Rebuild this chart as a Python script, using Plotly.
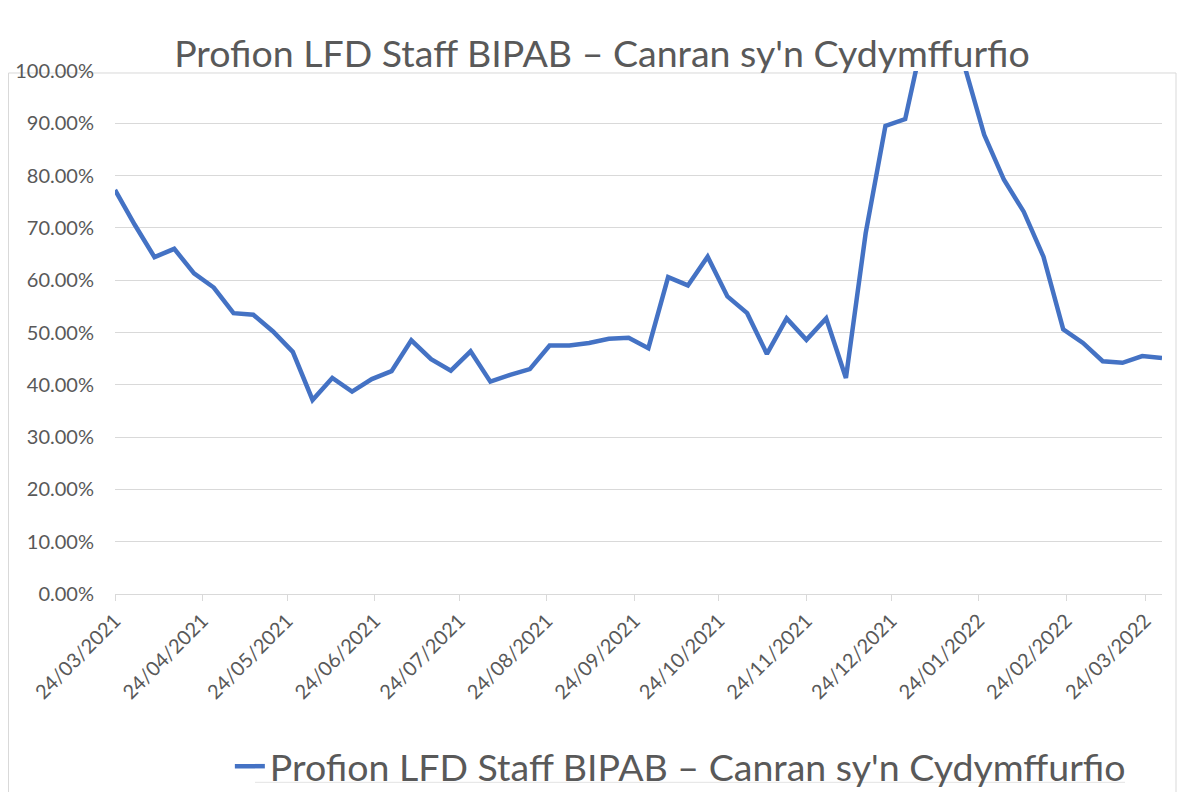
import plotly.graph_objects as go

dates = [
    "2021-03-24", "2021-03-31", "2021-04-07", "2021-04-14", "2021-04-21", "2021-04-28",
    "2021-05-05", "2021-05-12", "2021-05-19", "2021-05-26", "2021-06-02", "2021-06-09",
    "2021-06-16", "2021-06-23", "2021-06-30", "2021-07-07", "2021-07-14", "2021-07-21",
    "2021-07-28", "2021-08-04", "2021-08-11", "2021-08-18", "2021-08-25", "2021-09-01",
    "2021-09-08", "2021-09-15", "2021-09-22", "2021-09-29", "2021-10-06", "2021-10-13",
    "2021-10-20", "2021-10-27", "2021-11-03", "2021-11-10", "2021-11-17", "2021-11-24",
    "2021-12-01", "2021-12-08", "2021-12-15", "2021-12-22", "2021-12-29", "2022-01-05",
    "2022-01-12", "2022-01-19", "2022-01-26", "2022-02-02", "2022-02-09", "2022-02-16",
    "2022-02-23", "2022-03-02", "2022-03-09", "2022-03-16", "2022-03-23", "2022-03-30",
]

compliance_pct = [
    77.25, 70.6, 64.4, 66.0, 61.3, 58.6,
    53.7, 53.4, 50.2, 46.3, 37.1, 41.3,
    38.7, 41.1, 42.6, 48.5, 44.9, 42.7,
    46.4, 40.6, 41.9, 43.0, 47.5, 47.5,
    48.0, 48.8, 49.0, 47.0, 60.6, 59.0,
    64.5, 56.9, 53.7, 45.9, 52.7, 48.6,
    52.7, 41.3, 69.0, 89.5, 90.8, 108.0,
    110.0, 101.0, 87.8, 79.2, 73.1, 64.5,
    50.6, 48.0, 44.5, 44.2, 45.5, 45.1,
]

tick_dates = [
    "2021-03-24", "2021-04-24", "2021-05-24", "2021-06-24", "2021-07-24",
    "2021-08-24", "2021-09-24", "2021-10-24", "2021-11-24", "2021-12-24",
    "2022-01-24", "2022-02-24", "2022-03-24",
]

series_name = "Profion LFD Staff BIPAB \u2013 Canran sy'n Cydymffurfio"
title_text = "Profion LFD Staff BIPAB \u2013 Canran sy'n Cydymffurfio"

values = [v / 100 for v in compliance_pct]

FONT = "Lato"
GREY_TXT = "#595959"
GRID = "#d9d9d9"

# the page adds an 8px body margin, so the figure is drawn 8px smaller
W, H = 1178, 784
L, T, R, B = 107, 63, 24, 197.5
PW, PH = W - L - R, H - T - B

fig = go.Figure()
fig.add_trace(go.Scatter(
    x=dates, y=values, mode="lines", name=series_name,
    line=dict(color="#4472C4", width=4.5),
    showlegend=True,
))

fig.update_layout(
    width=W, height=H,
    margin=dict(l=L, r=R, t=T, b=B, autoexpand=False),
    paper_bgcolor="white", plot_bgcolor="white",
    font=dict(family=FONT, color=GREY_TXT),
    title=dict(
        text=title_text, x=594 / W, y=1 - 46 / H,
        xref="container", yref="container", xanchor="center", yanchor="middle",
        font=dict(family=FONT, size=37.5, color=GREY_TXT),
    ),
    showlegend=True,
    legend=dict(
        orientation="h", x=0.1097, xanchor="left", y=-(B + 6) / PH, yanchor="bottom",
        font=dict(family=FONT, size=37.5, color=GREY_TXT),
        bgcolor="rgba(0,0,0,0)", borderwidth=0,
    ),
    xaxis=dict(
        type="date", range=["2021-03-24", "2022-03-30"], automargin=False,
        tickmode="array", tickvals=tick_dates, tickformat="%d/%m/%Y",
        tickangle=-45, tickfont=dict(family=FONT, size=20, color=GREY_TXT),
        showgrid=False, showline=True, linecolor=GRID, linewidth=1.2,
        ticks="outside", ticklen=6, tickcolor=GRID, tickwidth=1.2,
        zeroline=False,
    ),
    yaxis=dict(
        range=[0, 1], dtick=0.1, tick0=0, tickformat=".2%", automargin=False,
        tickfont=dict(family=FONT, size=20, color=GREY_TXT),
        showgrid=True, gridcolor=GRID, gridwidth=1.2,
        showline=False, zeroline=False, ticks="",
        ticklabelstandoff=20,
    ),
    shapes=[
        dict(type="rect", xref="paper", yref="paper",
             x0=(0.5 - L) / PW, x1=(1168 - L) / PW,
             y0=-0.6, y1=(PH - 2) / PH,
             line=dict(color=GRID, width=1), fillcolor="rgba(0,0,0,0)", layer="below"),
        dict(type="line", xref="paper", yref="paper",
             x0=(247 - L) / PW, x1=(1117 - L) / PW,
             y0=(PH + T - 775) / PH, y1=(PH + T - 775) / PH,
             line=dict(color="#e3e3e3", width=1), layer="below"),
    ],
)

fig.write_html("out.html")
